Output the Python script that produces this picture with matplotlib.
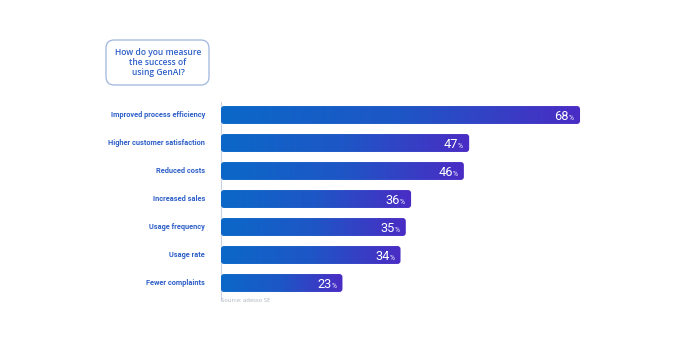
import matplotlib
matplotlib.use('Agg')
import numpy as np
import matplotlib.pyplot as plt
from matplotlib.patches import FancyBboxPatch
from matplotlib.colors import LinearSegmentedColormap

plt.rcParams['font.family'] = ['Open Sans', 'DejaVu Sans']
narrow = ['Roboto', 'DejaVu Sans']

categories = ["Improved process efficiency", "Higher customer satisfaction", "Reduced costs",
              "Increased sales", "Usage frequency", "Usage rate", "Fewer complaints"]
values = [68, 47, 46, 36, 35, 34, 23]
question = "How do you measure\nthe success of\nusing GenAI?"
source = "Source: adesso SE"

W, H = 686, 343
fig = plt.figure(figsize=(W / 100, H / 100), dpi=100)
fig.patch.set_facecolor('white')

px_per_unit = 5.28
ax_left, ax_right = 221, 650
ax_top, ax_bot = 101, 297
ax = fig.add_axes([ax_left / W, 1 - ax_bot / H, (ax_right - ax_left) / W, (ax_bot - ax_top) / H])
ax.axis('off')

label_blue = '#2d5fc8'
cmap = LinearSegmentedColormap.from_list('bar', ['#0b68c8', '#1e56c6', '#4a2cc4'])
grad = np.linspace(0, 1, 256).reshape(1, -1)

y = np.arange(len(categories))
bars = ax.barh(y, values, height=0.64, color='none', edgecolor='none')
rx = 3 / px_per_unit
ry = 3 / 28
for bar, v in zip(bars, values):
    x0, y0 = bar.get_x(), bar.get_y()
    w, h = bar.get_width(), bar.get_height()
    clip = FancyBboxPatch((x0, y0), w, h, boxstyle=f"round,pad=0,rounding_size={rx}",
                          mutation_aspect=ry / rx, facecolor='none', edgecolor='none',
                          transform=ax.transData)
    ax.add_patch(clip)
    im = ax.imshow(grad, extent=(x0, x0 + w, y0 + h, y0), cmap=cmap, aspect='auto',
                   interpolation='bilinear', zorder=2)
    im.set_clip_path(clip)
    yc = y0 + h / 2
    ax.annotate('%', (x0 + w, yc), xytext=(-4.5, -3.6), textcoords='offset points',
                ha='right', va='baseline', color='white', fontsize=4.8, family=narrow, zorder=3)
    ax.annotate(f'{v}', (x0 + w, yc), xytext=(-8.0, -3.6), textcoords='offset points',
                ha='right', va='baseline', color='white', fontsize=9.2,
                family=narrow, fontweight='normal', zorder=3)

ax.set_ylim(len(categories) - 0.5, -0.5)
ax.set_xlim(0, (ax_right - ax_left) / px_per_unit)

# thin axis line
ax.plot([0, 0], [-0.45, len(categories) - 0.38], color='#c8d2e4', lw=0.8, zorder=1, clip_on=False)

for yi, c in zip(y, categories):
    ax.annotate(c, (0, yi), xytext=(-11.5, 0), textcoords='offset points',
                ha='right', va='center', color=label_blue, fontsize=5.3,
                family=narrow, fontweight='bold')

# question box
box = FancyBboxPatch((106 / W, 1 - 85 / H), 103 / W, 45 / H,
                     boxstyle="round,pad=0,rounding_size=0.012", transform=fig.transFigure,
                     facecolor='white', edgecolor='#9fb6df', lw=0.9, mutation_aspect=2)
fig.add_artist(box)
fig.text(158 / W, 1 - 62.5 / H, question, ha='center', va='center', color=label_blue,
         fontsize=6.1, linespacing=1.2, fontweight='semibold')

fig.text(221 / W, 1 - 301 / H, source, ha='left', va='center', color='#a8b0bc', fontsize=4.2)

fig.savefig('out.png', dpi=100, facecolor='white')
